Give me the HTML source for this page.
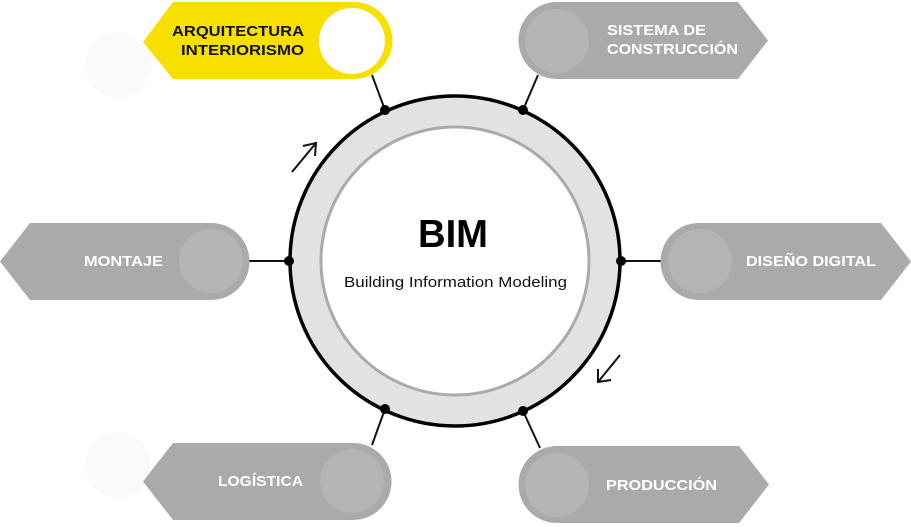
<!DOCTYPE html>
<html><head><meta charset="utf-8"><style>
html,body{margin:0;padding:0;background:#fff;}
svg{display:block;}
text{font-family:"Liberation Sans",sans-serif;font-weight:bold;}
</style></head><body>
<svg width="911" height="527" viewBox="0 0 911 527" xmlns="http://www.w3.org/2000/svg">
<circle cx="118" cy="65" r="33" fill="#fafafa"/>
<circle cx="118" cy="465" r="33" fill="#fafafa"/>
<g stroke="#111" stroke-width="2">
<line x1="372" y1="75" x2="385" y2="110"/>
<line x1="538" y1="75" x2="523" y2="110"/>
<line x1="248" y1="261" x2="289" y2="261"/>
<line x1="621" y1="261" x2="662" y2="261"/>
<line x1="385" y1="409" x2="372" y2="445"/>
<line x1="523" y1="411" x2="540" y2="448"/>
</g>
<circle cx="455" cy="261" r="165" fill="#e2e2e2" stroke="#000" stroke-width="3.5"/>
<circle cx="455" cy="261" r="134" fill="#fff" stroke="#aaa" stroke-width="3"/>
<g fill="#000">
<circle cx="385" cy="110" r="5"/><circle cx="523" cy="110" r="5"/>
<circle cx="289" cy="261" r="5"/><circle cx="621" cy="261" r="5"/>
<circle cx="385" cy="409" r="5"/><circle cx="523" cy="411" r="5"/>
</g>
<g stroke="#111" stroke-width="2" fill="none">
<path d="M292 172 L316 143 M303 146 L316 143 L315 156"/>
<path d="M620 355 L598 382 M598 369 L598 382 L611 380"/>
</g>
<path d="M173 2 L354 2 A38.5 38.5 0 0 1 354 79 L173 79 L143 42 Z" fill="#f7e000"/>
<circle cx="352" cy="41" r="33" fill="#fff"/>
<path d="M30 223 L211 223 A38.5 38.5 0 0 1 211 300 L30 300 L0 261.5 Z" fill="#aaa"/>
<circle cx="211" cy="261" r="32" fill="#b4b4b4"/>
<path d="M173 443 L353 443 A38.5 38.5 0 0 1 353 520 L173 520 L143 481.5 Z" fill="#aaa"/>
<circle cx="352" cy="481" r="32" fill="#b4b4b4"/>
<path d="M738 2 L557 2 A38.5 38.5 0 0 0 557 79 L738 79 L768 40.5 Z" fill="#aaa"/>
<circle cx="557" cy="41" r="32" fill="#b4b4b4"/>
<path d="M881 223 L699 223 A38.5 38.5 0 0 0 699 300 L881 300 L911 261.5 Z" fill="#aaa"/>
<circle cx="700" cy="261" r="32" fill="#b4b4b4"/>
<path d="M739 446 L557 446 A38.5 38.5 0 0 0 557 523 L739 523 L769 484.5 Z" fill="#aaa"/>
<circle cx="557" cy="485" r="32" fill="#b4b4b4"/>
<g font-size="15" fill="#fff" lengthAdjust="spacingAndGlyphs">
<text x="172" y="36" fill="#111" textLength="132" lengthAdjust="spacingAndGlyphs">ARQUITECTURA</text>
<text x="181" y="55" fill="#111" textLength="123" lengthAdjust="spacingAndGlyphs">INTERIORISMO</text>
<text x="607" y="35" textLength="99" lengthAdjust="spacingAndGlyphs">SISTEMA DE</text>
<text x="607" y="54" textLength="131" lengthAdjust="spacingAndGlyphs">CONSTRUCCIÓN</text>
<text x="84" y="266" textLength="79" lengthAdjust="spacingAndGlyphs">MONTAJE</text>
<text x="746" y="266" textLength="130" lengthAdjust="spacingAndGlyphs">DISEÑO DIGITAL</text>
<text x="218" y="486" textLength="85" lengthAdjust="spacingAndGlyphs">LOGÍSTICA</text>
<text x="606" y="490" textLength="111" lengthAdjust="spacingAndGlyphs">PRODUCCIÓN</text>
</g>
<text x="418" y="247" font-size="39" fill="#000" textLength="70" lengthAdjust="spacingAndGlyphs">BIM</text>
<text x="344" y="287" font-size="15" style="font-weight:normal" fill="#111" textLength="223" lengthAdjust="spacingAndGlyphs">Building Information Modeling</text>
</svg>
</body></html>
